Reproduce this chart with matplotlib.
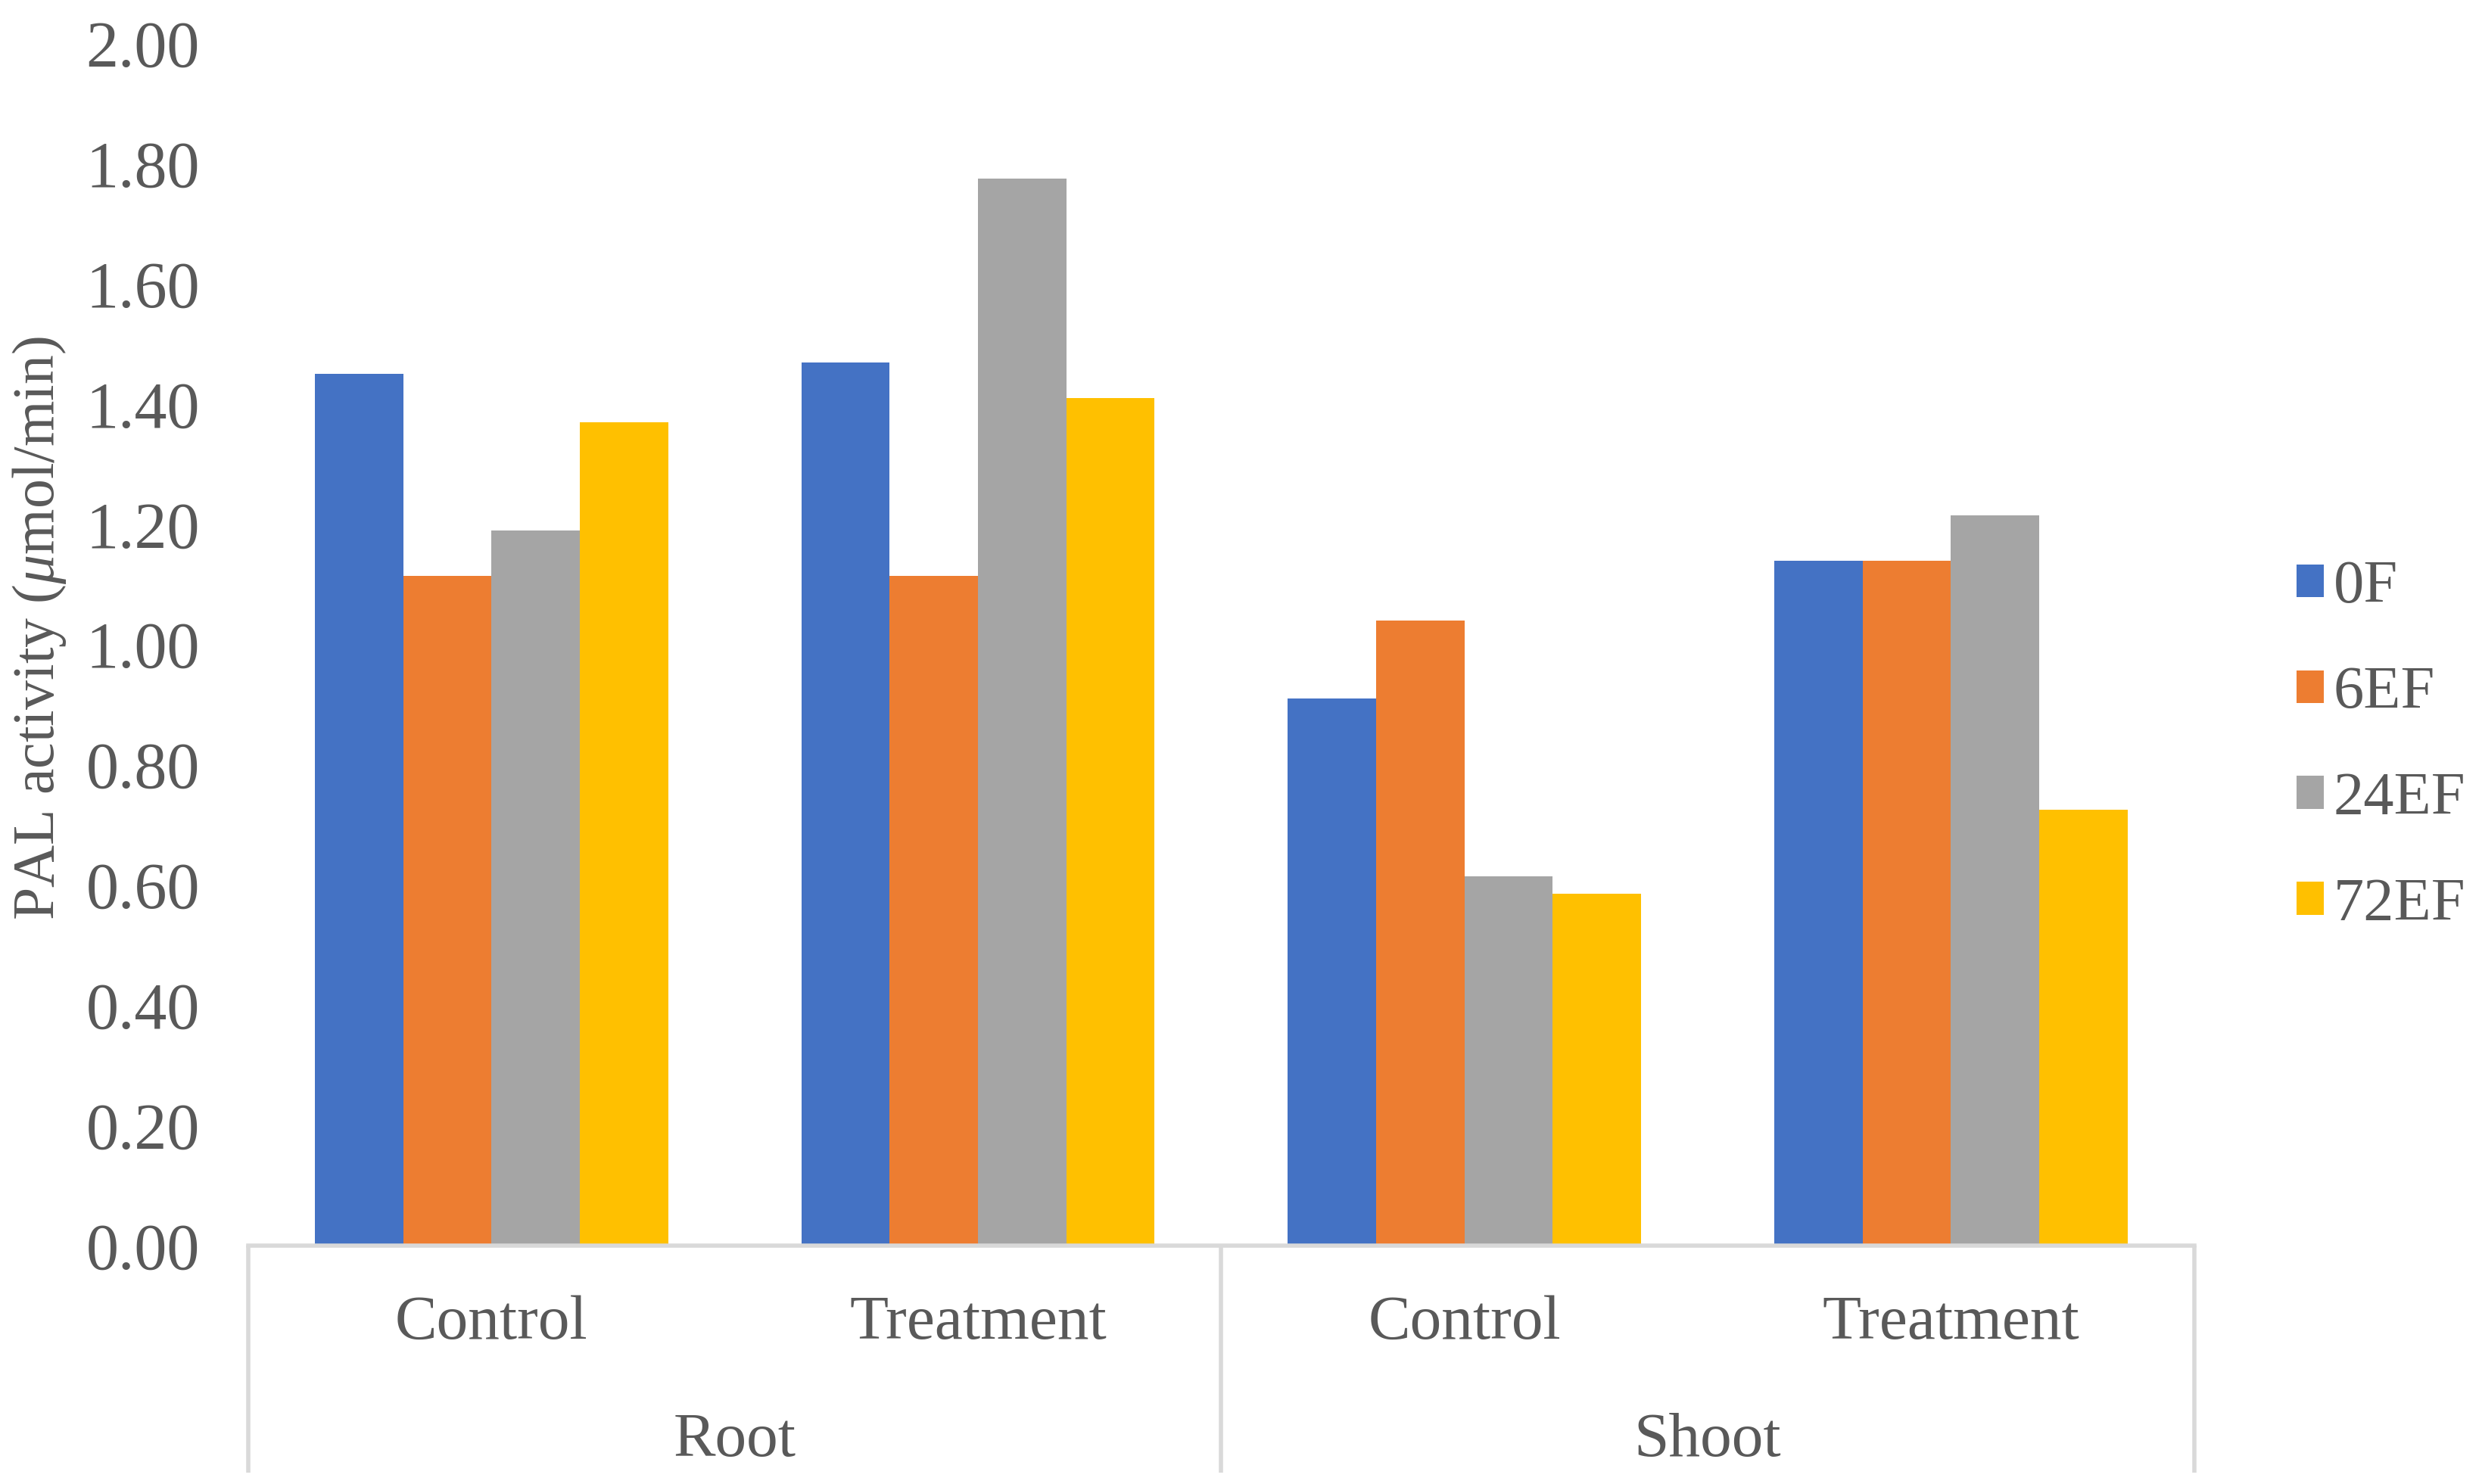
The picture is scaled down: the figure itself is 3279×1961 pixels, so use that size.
import matplotlib
matplotlib.use("Agg")
import matplotlib.pyplot as plt
import matplotlib.transforms as mtrans
from matplotlib.patches import Patch
import numpy as np

plt.rcParams['font.family'] = ['Liberation Serif', 'DejaVu Serif']
plt.rcParams['mathtext.fontset'] = 'custom'
plt.rcParams['mathtext.rm'] = 'Liberation Serif'
plt.rcParams['mathtext.it'] = 'Liberation Serif:italic'

categories = ['Control', 'Treatment', 'Control', 'Treatment']
groups = ['Root', 'Shoot']
series = ['0F', '6EF', '24EF', '72EF']
vals_0F = [1.45, 1.47, 0.91, 1.14]
vals_6EF = [1.115, 1.115, 1.04, 1.14]
vals_24EF = [1.19, 1.775, 0.615, 1.215]
vals_72EF = [1.37, 1.41, 0.585, 0.725]
colors = ['#4472C4', '#ED7D31', '#A5A5A5', '#FFC000']
txt = '#595959'
grid_c = '#D9D9D9'

fig = plt.figure(figsize=(32.79, 19.61), dpi=100)
ax = fig.add_axes([0.100, 0.1606, 0.784, 0.8100])

x = np.arange(len(categories))
w = 0.1815
allvals = [vals_0F, vals_6EF, vals_24EF, vals_72EF]
for i, v in enumerate(allvals):
    ax.bar(x + (i - 1.5) * w, v, w, color=colors[i], label=series[i], linewidth=0)

ax.set_xlim(-0.5, 3.5)
ax.set_ylim(0, 2.0)
ax.set_yticks(np.arange(0, 2.01, 0.2))
ax.set_yticklabels(['%.2f' % t for t in np.arange(0, 2.01, 0.2)])
ax.tick_params(axis='y', length=0, pad=46, labelsize=62, labelcolor=txt)
ax.set_xticks([])
for s in ['top', 'right', 'left']:
    ax.spines[s].set_visible(False)
ax.spines['bottom'].set_color(grid_c)
ax.spines['bottom'].set_linewidth(4)

# multi-level category axis
tr = mtrans.blended_transform_factory(ax.transData, fig.transFigure)
for xi, c in zip(x, categories):
    ax.text(xi, 1 - 1749 / 1961, c, transform=tr, ha='center', va='center',
            fontsize=60, color=txt)
for gi, g in enumerate(groups):
    ax.text(gi * 2 + 0.5, 1 - 1904 / 1961, g, transform=tr, ha='center', va='center',
            fontsize=60, color=txt)
for xs in [-0.5, 1.5, 3.5]:
    ax.plot([xs, xs], [0.1606, 1 - 1946 / 1961], transform=tr, color=grid_c,
            lw=4, clip_on=False, solid_capstyle='butt')

fig.text(52 / 3279, 1 - 830 / 1961, r'PAL activity ($\mu$mol/min)', rotation=90,
         ha='center', va='center', fontsize=56, color=txt)

handles = [Patch(facecolor=c, edgecolor='none') for c in colors]
leg = fig.legend(handles, series, loc='center left', bbox_to_anchor=(0.9155, 0.497),
                 frameon=False, fontsize=58, handlelength=0.45, handleheight=0.45,
                 handletextpad=0.15, labelspacing=0.83, borderaxespad=0)
for t in leg.get_texts():
    t.set_color(txt)

fig.savefig('out.png', dpi=100)
